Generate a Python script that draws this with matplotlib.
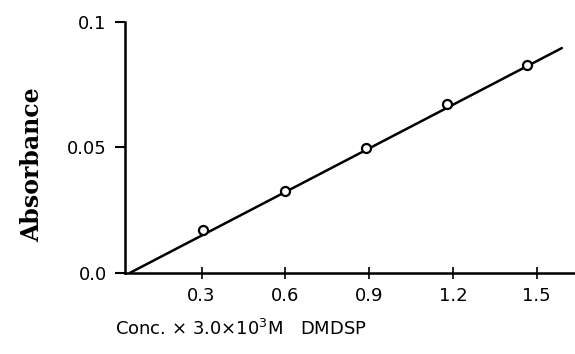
import numpy as np
import matplotlib.pyplot as plt

# data
conc = [0.304, 0.598, 0.888, 1.178, 1.465]
absorb = [0.0171, 0.0327, 0.0498, 0.0673, 0.0829]
fit_x = [0.043, 1.59]
fit_y = [0.0, 0.0896]
xticks = [0.3, 0.6, 0.9, 1.2, 1.5]
xlabels = ['0.3', '0.6', '0.9', '1.2', '1.5']
yticks = [0.0, 0.05, 0.1]
ylabels = ['0.0', '0.05', '0.1']

fig = plt.figure(figsize=(5.75, 3.54), dpi=100)
ax = fig.add_axes([0.217, 0.229, 0.783, 0.709])

ax.plot(fit_x, fit_y, color='black', lw=1.8, solid_capstyle='round', zorder=2)
ax.plot(conc, absorb, 'o', ms=6.5, mfc='white', mec='black', mew=1.6, zorder=3)

ax.set_xlim(0.025, 1.637)
ax.set_ylim(0.0, 0.1)
ax.spines['top'].set_visible(False)
ax.spines['right'].set_visible(False)
ax.spines['left'].set_linewidth(1.8)
ax.spines['bottom'].set_linewidth(1.8)

ax.set_xticks(xticks)
ax.set_xticklabels(xlabels, fontsize=13)
ax.set_yticks(yticks)
ax.set_yticklabels(ylabels, fontsize=13)
ax.tick_params(axis='x', direction='inout', length=8, width=1.2, pad=6)
ax.tick_params(axis='y', direction='out', length=7, width=1.5, pad=6)

ax.set_ylabel('Absorbance', family='DejaVu Serif', fontweight='bold', fontsize=17)
ax.yaxis.set_label_coords(-0.18, 0.43)
fig.text(0.20, 0.07, 'Conc. × 3.0×10$^{3}$M   DMDSP', fontsize=13, ha='left', va='center')

plt.savefig('out.png', dpi=100)
